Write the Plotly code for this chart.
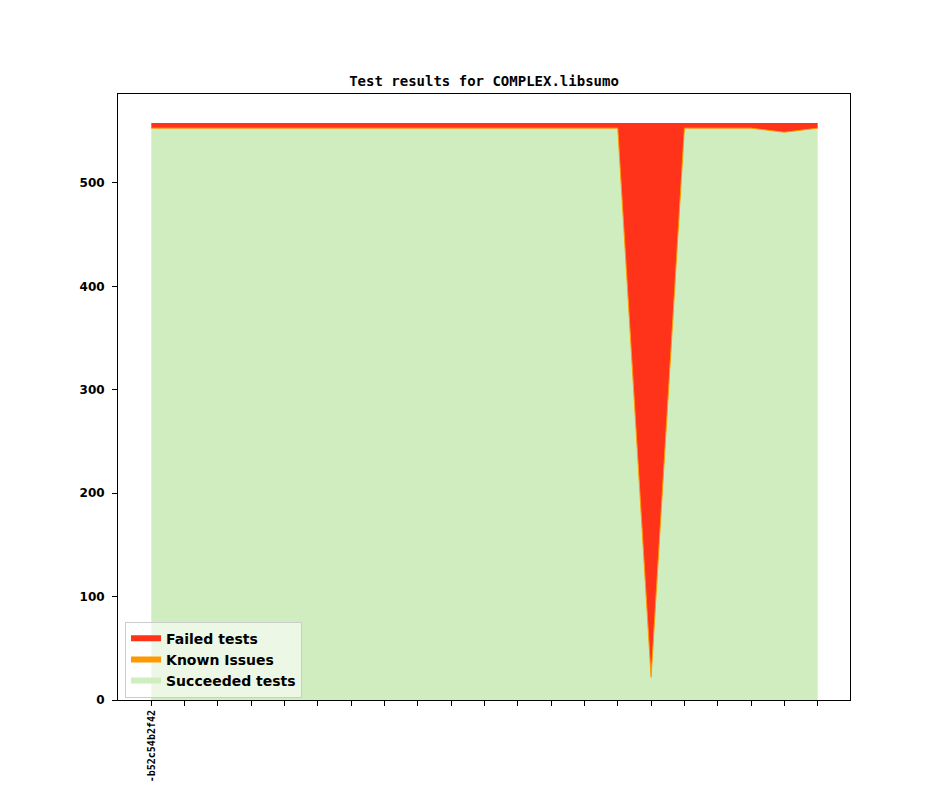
import plotly.graph_objects as go

commits = ["-b52c54b2f42"] + [""] * 20
succeeded = [553] * 15 + [22] + [553, 553, 553, 549, 553]
known_issues = [0] * 21
failed = [5] * 15 + [536] + [5, 5, 5, 9, 5]

x = list(range(len(commits)))

green = "#cfedbe"
orange = "#ff9900"
red = "#ff321a"

fig = go.Figure()
fig.add_trace(go.Scatter(x=x, y=succeeded, name="Succeeded tests", stackgroup="s",
                         mode="none", fillcolor=green))
fig.add_trace(go.Scatter(x=x, y=known_issues, name="Known Issues", stackgroup="s",
                         mode="none", fillcolor=orange))
fig.add_trace(go.Scatter(x=x, y=failed, name="Failed tests", stackgroup="s",
                         mode="none", fillcolor=red))
# thin orange edge of the (zero-height) known issues band
edge = [s + k for s, k in zip(succeeded, known_issues)]
fig.add_trace(go.Scatter(x=x, y=edge, mode="lines", line=dict(width=1, color=orange),
                         showlegend=False, hoverinfo="skip"))

# page body has an 8px margin: figure is 936x779 so the plot lands where the reference has it
W, H = 936, 779
fig.update_layout(
    width=W, height=H,
    margin=dict(l=110, r=94, t=86, b=87, autoexpand=False),
    paper_bgcolor="white", plot_bgcolor="white",
    title=dict(text="<b>Test results for COMPLEX.libsumo</b>", x=(484 - 8) / W, xanchor="center",
               y=1 - (81 - 8) / H, yanchor="middle", yref="container",
               font=dict(family="DejaVu Sans Mono", size=14, color="black")),
    showlegend=True,
    legend=dict(x=0.0096, xanchor="left", y=0.004, yanchor="bottom",
                traceorder="reversed", bgcolor="rgba(255,255,255,0.6)",
                bordercolor="#cccccc", borderwidth=1,
                font=dict(family="DejaVu Sans", size=14, color="black", weight="bold"),
                itemwidth=30, tracegroupgap=0),
    font=dict(family="DejaVu Sans", color="black"),
)
fig.update_xaxes(range=[-1, 20.97], tickmode="array", tickvals=x, ticktext=commits,
                 tickangle=-90, ticks="outside", ticklen=5, tickcolor="black",
                 showline=True, linecolor="black", linewidth=1, mirror=True,
                 showgrid=False, zeroline=False, automargin=False,
                 tickfont=dict(family="DejaVu Sans Mono", size=10, color="black", weight="bold"))
fig.update_yaxes(range=[0, 586], tickvals=[0, 100, 200, 300, 400, 500],
                 ticks="outside", ticklen=5, tickcolor="black", ticklabelstandoff=5,
                 showline=True, linecolor="black", linewidth=1, mirror=True,
                 showgrid=False, zeroline=False, automargin=False,
                 tickfont=dict(family="DejaVu Sans", size=12, color="black", weight="bold"))

fig.write_html("out.html")
